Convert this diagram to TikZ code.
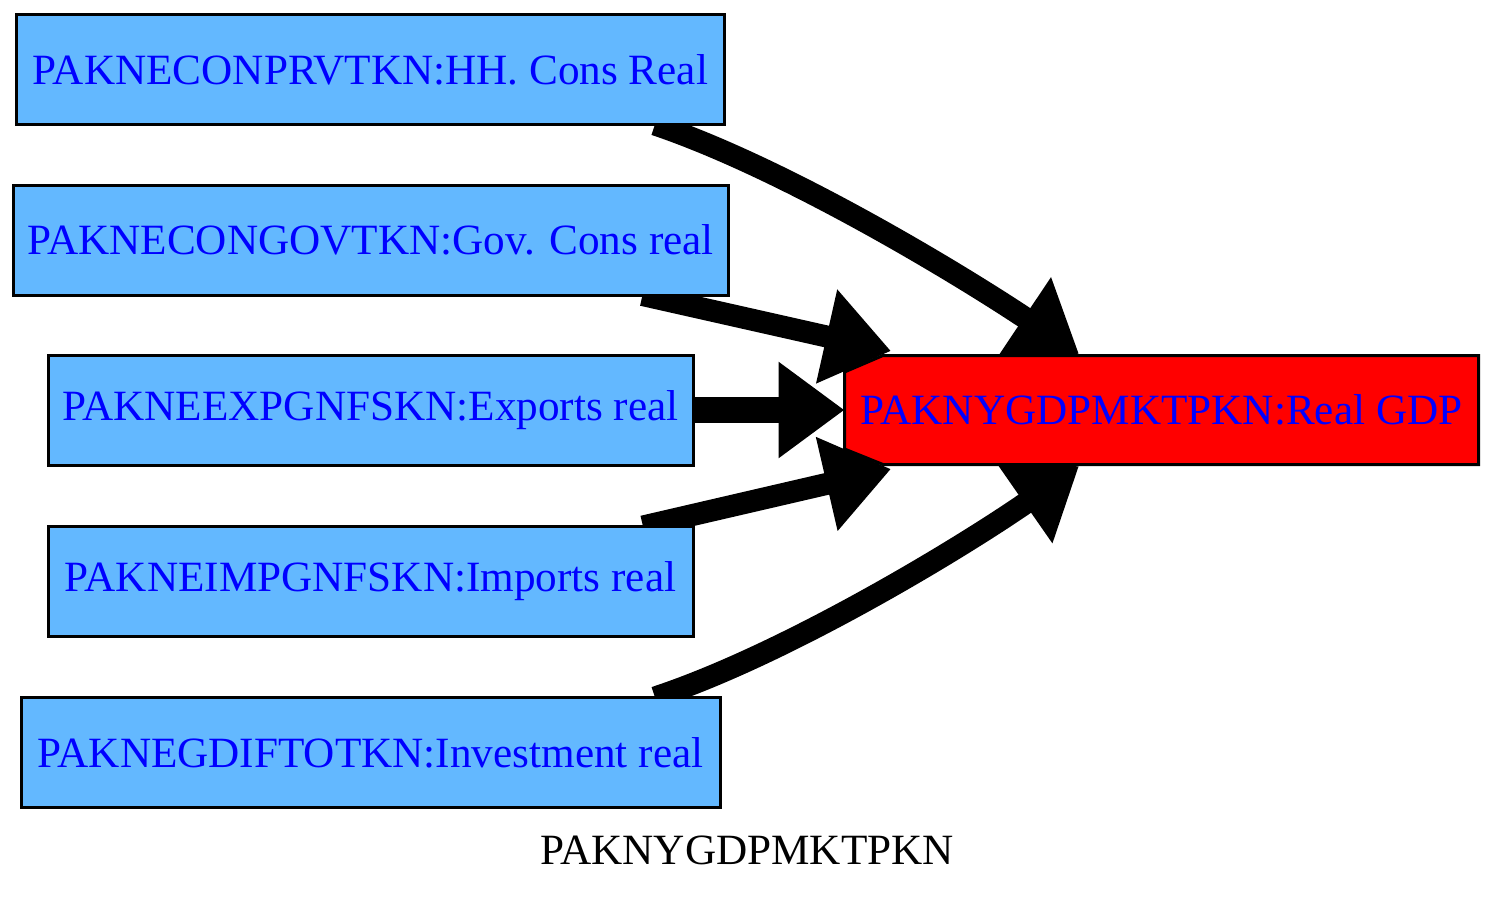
\documentclass[tikz,border=0pt]{standalone}
\usepackage{fontspec}
\setmainfont{Liberation Serif}
\usetikzlibrary{positioning, arrows.meta, calc}
\pgfdeclarelayer{back}
\pgfdeclarelayer{mid}
\pgfsetlayers{back,mid,main}
\definecolor{boxblue}{RGB}{99,184,255}
\tikzset{
    series/.style={draw=black, line width=1.5pt, fill=boxblue, text=blue, inner sep=0pt, outer sep=0pt, minimum height=55pt}, % the input series
    target/.style={text=blue, inner sep=0pt, outer sep=0pt, minimum width=317pt, minimum height=54.5pt}, % shape is drawn by hand below
    feed/.style={-{Triangle[length=33pt, width=46pt]}, line width=11pt} % the thick arrows
}

\begin{document}
\begin{tikzpicture}[x=0.5pt, y=-0.5pt, every node/.style={font=\fontsize{21.6pt}{25pt}\selectfont}]
        \useasboundingbox (0,0) rectangle (1494,900);

        \node[series, minimum width=354pt] (hh) at (370.5,69.5) {PAKNECONPRVTKN:HH. Cons Real};
        \node[series, minimum width=357.5pt] (gov) [below=30.25pt of hh] {PAKNECONGOVTKN:Gov. Cons real};
        \node[series, minimum width=322.5pt] (exp) [below=30pt of gov] {PAKNEEXPGNFSKN:Exports real};
        \node[series, minimum width=322.5pt] (imp) [below=30.75pt of exp] {PAKNEIMPGNFSKN:Imports real};
        \node[series, minimum width=349.5pt] (inv) [below=30.5pt of imp] {PAKNEGDIFTOTKN:Investment real};

        \node[target] (gdp) [right=75.75pt of exp] {PAKNYGDPMKTPKN:Real GDP};

        \node (title) at (747,850) {PAKNYGDPMKTPKN};

        \begin{pgfonlayer}{mid}
        \filldraw[fill=red, draw=black, line width=1.5pt]
            ($(gdp.north west)+(38.5,0)$) -- (gdp.north east) -- (gdp.south east)
            -- ($(gdp.south west)+(38.5,0)$) -- ($(gdp.south west)+(0,-15.5)$)
            -- ($(gdp.north west)+(0,16.5)$) -- cycle;
        \end{pgfonlayer}

        \begin{pgfonlayer}{back}
        \draw[feed] ($(hh.south east)+(-69.5,0)$) .. controls (787,169) and (964,277) .. ($(gdp.north west)+(234.5,-1.5)$);
        \draw[feed] ($(gov.south east)+(-85.5,0)$) -- ($(gdp.north west)+(46.5,-4.5)$);
        \draw[feed, line width=13pt] (exp.east) -- (gdp.west);
        \draw[feed] ($(imp.north east)+(-50,0)$) -- ($(gdp.south west)+(46.5,4.5)$);
        \draw[feed] ($(inv.north east)+(-65,0)$) .. controls (787,654) and (964,546) .. ($(gdp.south west)+(234.5,1.5)$);
        \end{pgfonlayer}
    \end{tikzpicture}
\end{document}
